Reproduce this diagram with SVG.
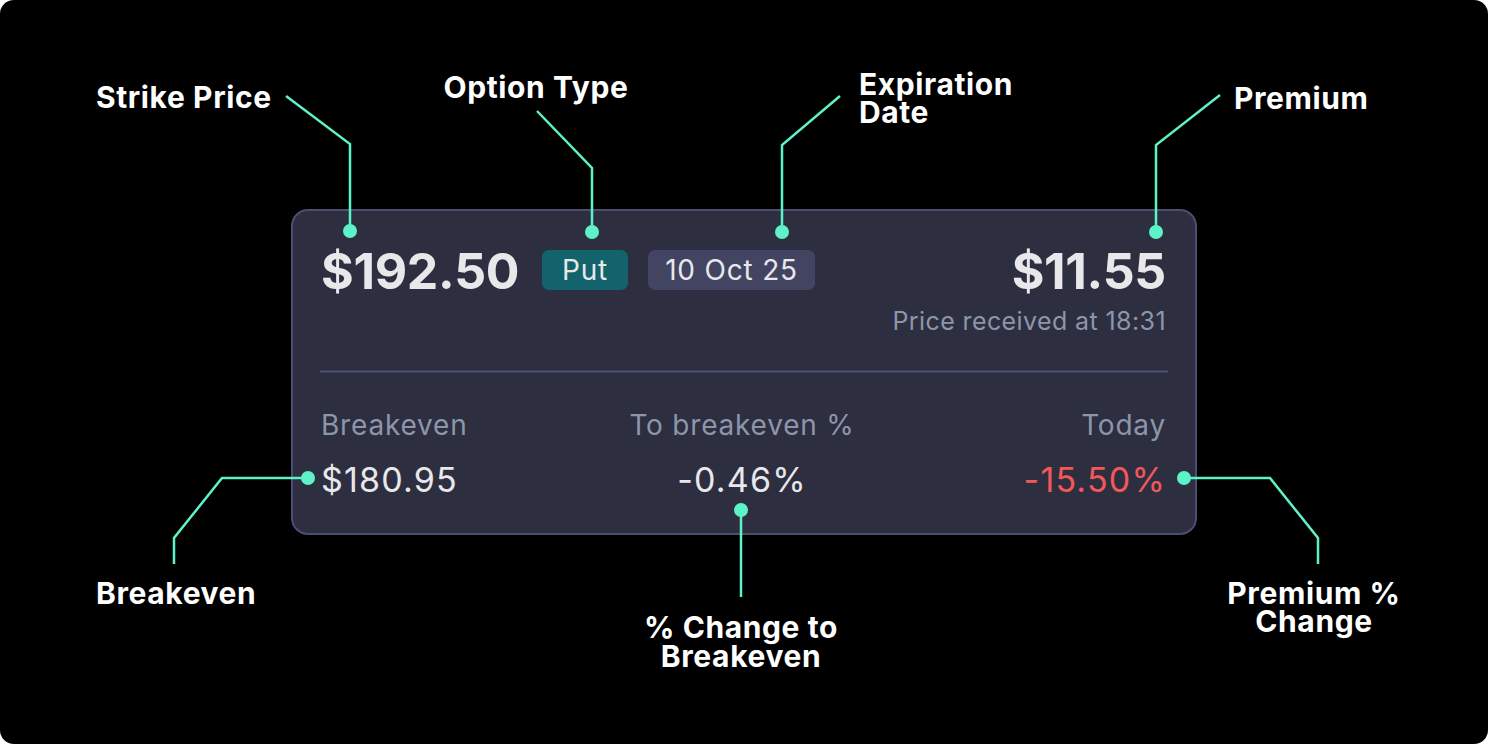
<svg xmlns="http://www.w3.org/2000/svg" width="1488" height="744" viewBox="0 0 1488 744">
<style>
.lbl{font-family:Inter,"Open Sans","Liberation Sans",sans-serif;font-weight:700;font-size:30px;fill:#ffffff;letter-spacing:0.6px}
.big{font-family:Inter,"Open Sans","Liberation Sans",sans-serif;font-weight:700;font-size:50px;fill:#e8e8ea;letter-spacing:-0.3px}
.sub{font-family:Inter,"Open Sans","Liberation Sans",sans-serif;font-weight:400;font-size:28px;fill:#8c96aa;letter-spacing:0.8px}
.val{font-family:Inter,"Open Sans","Liberation Sans",sans-serif;font-weight:400;font-size:34px;fill:#e8e8ea;letter-spacing:1.2px}
.badge{font-family:Inter,"Open Sans","Liberation Sans",sans-serif;font-weight:400;font-size:28px;fill:#e8e8ea;letter-spacing:0.8px}
.conn{fill:none;stroke:#5ef2c8;stroke-width:2.5}
.dot{fill:#5ef2c8}
</style>
<rect x="0" y="0" width="1488" height="744" fill="#ffffff"/>
<rect x="0" y="0" width="1488" height="744" rx="14" fill="#000000"/>
<g id="card">
<rect x="292" y="210" width="904" height="324" rx="16" fill="#2d2e40" stroke="#4b4d72" stroke-width="2"/>
<line x1="320" y1="371.5" x2="1168" y2="371.5" stroke="#4f5278" stroke-width="2"/>
</g>
<g id="strike-value"><text class="big" x="321" y="289">$192.50</text></g>
<g id="put-badge"><rect x="542" y="250" width="86" height="40" rx="7" fill="#13636c"/><text class="badge" x="585" y="280" text-anchor="middle">Put</text></g>
<g id="date-badge"><rect x="648" y="250" width="167" height="40" rx="7" fill="#424462"/><text class="badge" x="731.5" y="280" text-anchor="middle">10 Oct 25</text></g>
<g id="premium-value"><text class="big" x="1166" y="289" text-anchor="end">$11.55</text>
<text class="sub" x="1166" y="330" text-anchor="end" style="font-size:25px;letter-spacing:0.4px">Price received at 18:31</text></g>
<g id="breakeven-value"><text class="sub" x="321" y="435">Breakeven</text><text class="val" x="321" y="492">$180.95</text></g>
<g id="tobreakeven-value"><text class="sub" x="742" y="435" text-anchor="middle">To breakeven %</text><text class="val" x="742" y="492" text-anchor="middle">-0.46%</text></g>
<g id="today-value"><text class="sub" x="1166" y="435" text-anchor="end">Today</text><text class="val" x="1166" y="492" text-anchor="end" style="fill:#f25858">-15.50%</text></g>
<g id="connectors">
<polyline class="conn" points="286,96 350,144 350,231"/>
<circle class="dot" cx="350" cy="231" r="7"/>
<polyline class="conn" points="537,111 592,168 592,232"/>
<circle class="dot" cx="592" cy="232" r="7"/>
<polyline class="conn" points="840,96 782,145 782,232"/>
<circle class="dot" cx="782" cy="232" r="7"/>
<polyline class="conn" points="1220,95 1156,145 1156,232"/>
<circle class="dot" cx="1156" cy="232" r="7"/>
<polyline class="conn" points="308,478 222,478 174,538 174,564"/>
<circle class="dot" cx="308" cy="478" r="7"/>
<polyline class="conn" points="741,510 741,597"/>
<circle class="dot" cx="741" cy="510" r="7"/>
<polyline class="conn" points="1184,478 1270,478 1318,538 1318,564"/>
<circle class="dot" cx="1184" cy="478" r="7"/>
</g>
<g id="label-strike"><text class="lbl" x="96" y="108">Strike Price</text></g>
<g id="label-option"><text class="lbl" x="536" y="98" text-anchor="middle">Option Type</text></g>
<g id="label-expiration"><text class="lbl" x="859" y="95">Expiration</text><text class="lbl" x="859" y="123">Date</text></g>
<g id="label-premium"><text class="lbl" x="1234" y="109">Premium</text></g>
<g id="label-breakeven"><text class="lbl" x="96" y="604">Breakeven</text></g>
<g id="label-change"><text class="lbl" x="741" y="638" text-anchor="middle">% Change to</text><text class="lbl" x="741" y="667" text-anchor="middle">Breakeven</text></g>
<g id="label-premium-change"><text class="lbl" x="1314" y="604" text-anchor="middle">Premium %</text><text class="lbl" x="1314" y="632" text-anchor="middle">Change</text></g>
</svg>
